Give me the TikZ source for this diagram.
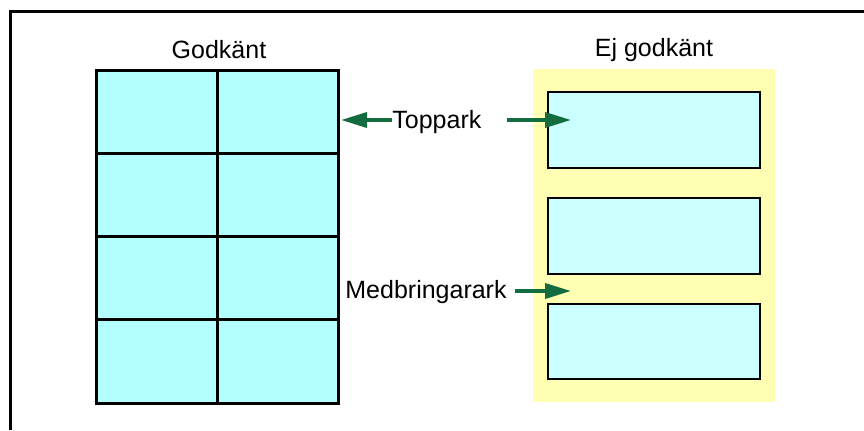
\documentclass[tikz,border=0pt]{standalone}
\usepackage{fontspec}
\setmainfont{Liberation Sans}
\usetikzlibrary{arrows.meta}
\definecolor{cellcyan}{HTML}{B3FFFF}
\definecolor{labelcyan}{HTML}{CCFFFF}
\definecolor{paperyellow}{HTML}{FFFFB3}
\definecolor{arrowgreen}{HTML}{136B40}
\begin{document}
\begin{tikzpicture}[x=0.5pt,y=-0.5pt,
  cell/.style={draw=black,line width=1.5pt,fill=cellcyan},
  lab/.style={draw=black,line width=1.4pt,fill=labelcyan},
  txt/.style={inner sep=0pt,font=\fontsize{12.5pt}{14pt}\selectfont},
  pointer/.style={draw=arrowgreen,line width=1.8pt,
    -{Triangle[length=13pt,width=7.5pt]}}]
\useasboundingbox (0,0) rectangle (864,430);
% outer frame: top and left edges only
\draw[line width=1.6pt] (10.5,430) -- (10.5,11.5) -- (864,11.5);

% accepted sheet: 2 x 4 labels
\foreach \r in {0,1,2,3} {
  \foreach \c in {0,1} {
    \pgfmathsetmacro{\xa}{96+121*\c}
    \pgfmathsetmacro{\ya}{70+83.25*\r}
    \draw[cell] (\xa,\ya) rectangle ++(121,83.25);
  }
}
\node[txt] (ok) at (219,50) {Godkänt};

% rejected sheet
\fill[paperyellow] (533,69) rectangle (775,402);
\node[txt] (notok) at (654,50) {Ej godkänt};
\draw[lab] (548,92) rectangle (760,168);
\draw[lab] (548,198) rectangle (760,274);
\draw[lab] (548,304) rectangle (760,379);

% labels and pointers
\node[txt,anchor=west] (top) at (392,122) {Toppark};
\node[txt,anchor=west] (carrier) at (345,292) {Medbringarark};
\coordinate (topL) at (341,120);
\coordinate (topR) at (571,120);
\coordinate (carR) at (571,291);
\draw[pointer] (top.west |- topL) -- (topL);
\draw[pointer] ([xshift=12.5pt]top.east |- topR) -- (topR);
\draw[pointer] ([xshift=4pt]carrier.east |- carR) -- (carR);
\end{tikzpicture}
\end{document}
